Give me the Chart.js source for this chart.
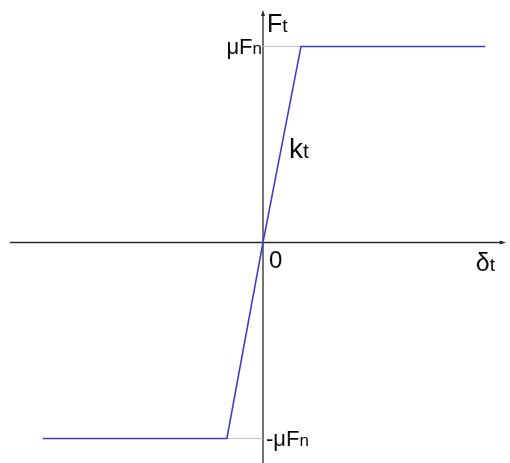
<!DOCTYPE html>
<html>
<head>
<meta charset="utf-8">
<script src="https://cdn.jsdelivr.net/npm/chart.js@4"></script>
<style>
  html, body { margin: 0; padding: 0; background: #fff; }
  #wrap { width: 510px; height: 463px; }
</style>
</head>
<body>
<div id="wrap"><canvas id="chart"></canvas></div>
<script>
// friction law: tangential force vs tangential displacement
var curveX = [-5.8, -0.95, 0, 1, 5.85];
var curveY = [-1, -1, 0, 1, 1];

// limit level +/- muFn and the slip points where it is reached
var limitY = [1, -1];
var slipX = [1, -0.95];

// axis extents (data units)
var axisX = [-6.66, 6.39];
var axisYTop = 1.186;

var font = 'Arial, "Liberation Sans", sans-serif';

var drawText = function(ctx, main, sub, x, y, size, align) {
	var subSize = Math.round(size * 0.76);
	ctx.font = size + 'px ' + font;
	var w1 = ctx.measureText(main).width;
	ctx.font = subSize + 'px ' + font;
	var w2 = ctx.measureText(sub).width;
	var start = align === 'right' ? x - w1 - w2 : x;
	ctx.fillStyle = '#0a0a0a';
	ctx.textBaseline = 'alphabetic';
	ctx.textAlign = 'left';
	ctx.font = size + 'px ' + font;
	ctx.fillText(main, start, y);
	ctx.font = subSize + 'px ' + font;
	ctx.fillText(sub, start + w1, y);
};

var axesPlugin = {
	id: 'axes',
	beforeDatasetsDraw: function(chart) {
		var ctx = chart.ctx;
		var xs = chart.scales.x, ys = chart.scales.y;
		var x0 = xs.getPixelForValue(0), y0 = ys.getPixelForValue(0);
		var xl = xs.getPixelForValue(axisX[0]), xr = xs.getPixelForValue(axisX[1]);
		var yt = ys.getPixelForValue(axisYTop), yb = chart.height;
		ctx.save();
		ctx.strokeStyle = '#2a2a2a';
		ctx.fillStyle = '#2a2a2a';
		ctx.lineWidth = 1.3;
		ctx.beginPath();
		ctx.moveTo(xl, y0); ctx.lineTo(xr - 3, y0);
		ctx.moveTo(x0, yb); ctx.lineTo(x0, yt + 3);
		ctx.stroke();
		// arrow heads
		ctx.beginPath();
		ctx.moveTo(xr, y0); ctx.lineTo(xr - 6, y0 - 2); ctx.lineTo(xr - 6, y0 + 2); ctx.closePath();
		ctx.moveTo(x0, yt); ctx.lineTo(x0 - 2, yt + 6); ctx.lineTo(x0 + 2, yt + 6); ctx.closePath();
		ctx.fill();
		ctx.restore();
	},
	afterDatasetsDraw: function(chart) {
		var ctx = chart.ctx;
		var xs = chart.scales.x, ys = chart.scales.y;
		var x0 = xs.getPixelForValue(0), y0 = ys.getPixelForValue(0);
		ctx.save();
		drawText(ctx, 'F', 't', x0 + 4, ys.getPixelForValue(axisYTop) + 22, 25);
		drawText(ctx, '\u03bcF', 'n', x0 - 1, ys.getPixelForValue(limitY[0]) + 8, 22, 'right');
		drawText(ctx, '-\u03bcF', 'n', x0 + 3, ys.getPixelForValue(limitY[1]) + 8, 22);
		drawText(ctx, 'k', 't', x0 + 26, ys.getPixelForValue(0.5) + 14, 28);
		drawText(ctx, '0', '', x0 + 6, y0 + 26, 24);
		drawText(ctx, '\u03b4', 't', xs.getPixelForValue(axisX[1]) - 30, y0 + 29, 25);
		ctx.restore();
	}
};

var ctx = document.getElementById('chart').getContext('2d');
var chart = new Chart(ctx, {
	type: 'scatter',
	data: {
		datasets: [{
			data: curveX.map(function(x, i) { return { x: x, y: curveY[i] }; }),
			showLine: true,
			borderColor: '#3d3dcc',
			borderWidth: 1.6,
			pointRadius: 0,
			order: 0
		}, {
			data: [{ x: 0, y: limitY[0] }, { x: slipX[0], y: limitY[0] }],
			showLine: true,
			borderColor: '#c4c4c4',
			borderWidth: 1,
			pointRadius: 0,
			order: 1
		}, {
			data: [{ x: slipX[1], y: limitY[1] }, { x: 0, y: limitY[1] }],
			showLine: true,
			borderColor: '#c4c4c4',
			borderWidth: 1,
			pointRadius: 0,
			order: 1
		}]
	},
	options: {
		responsive: true,
		maintainAspectRatio: false,
		animation: false,
		layout: { padding: 0 },
		plugins: { legend: { display: false }, tooltip: { enabled: false } },
		scales: {
			x: { type: 'linear', display: false, min: -6.921, max: 6.5 },
			y: { type: 'linear', display: false, min: -1.125, max: 1.237 }
		}
	},
	plugins: [axesPlugin]
});
</script>
</body>
</html>
